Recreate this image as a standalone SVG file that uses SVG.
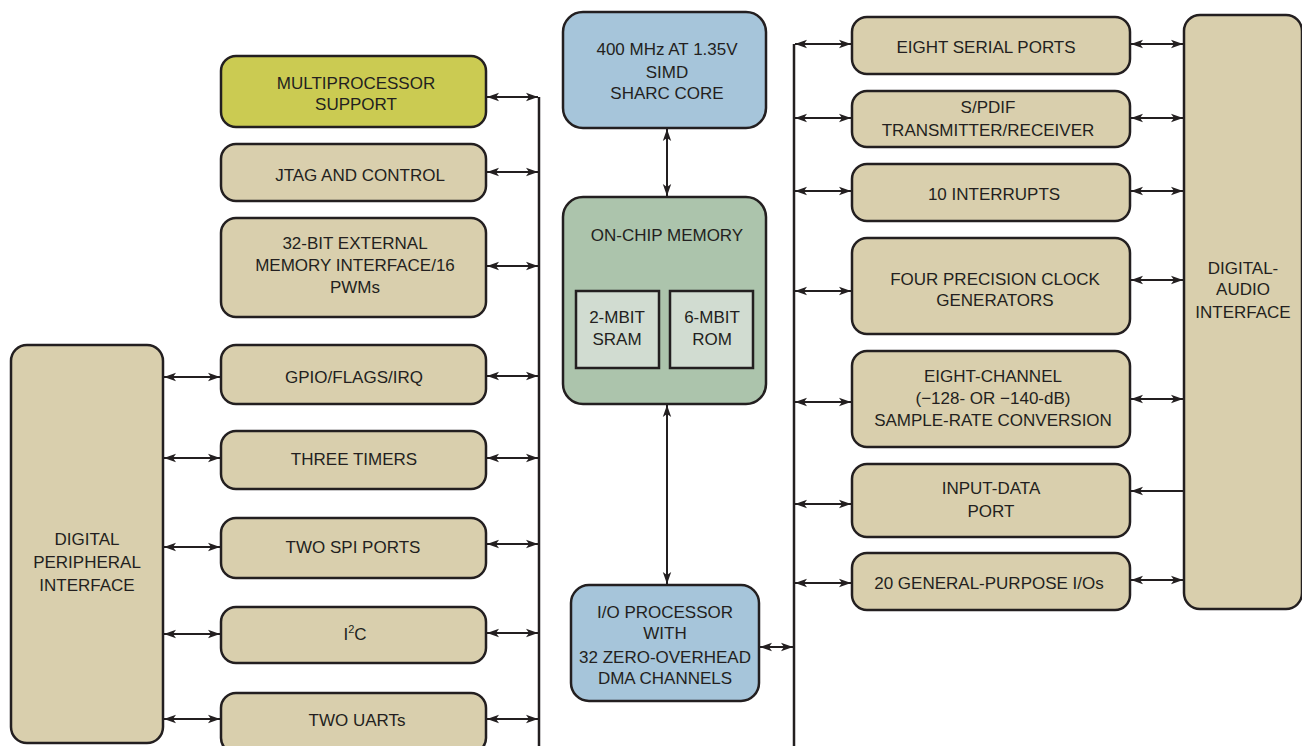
<svg xmlns="http://www.w3.org/2000/svg" width="1302" height="746" viewBox="0 0 1302 746">
<style>
.box{stroke:#231f20;stroke-width:2.5}
.tan{fill:#d9cfad}
.yel{fill:#cbcb52}
.blue{fill:#a6c5da}
.grn{fill:#acc4ac}
.inner{fill:#d1dcd1}
text{font-family:"Liberation Sans",Arial,sans-serif;font-size:17px;fill:#231f20;text-anchor:middle}
.ln{stroke:#231f20;stroke-width:2;fill:none}
.bus{stroke:#231f20;stroke-width:2.5;fill:none}
</style>
<defs>
<marker id="ah" viewBox="0 0 12 10" refX="12" refY="5" markerWidth="12" markerHeight="10" markerUnits="userSpaceOnUse" orient="auto-start-reverse">
<path d="M0,0.8 L12,5 L0,9.2 L3,5 Z" fill="#231f20"/>
</marker>
</defs>

<g id="connectors">
<line class="bus" x1="539" y1="97" x2="539" y2="746"/>
<line class="bus" x1="794" y1="44" x2="794" y2="746"/>
<line class="ln" x1="487" y1="97" x2="538" y2="97" marker-start="url(#ah)" marker-end="url(#ah)"/>
<line class="ln" x1="487" y1="172" x2="538" y2="172" marker-start="url(#ah)" marker-end="url(#ah)"/>
<line class="ln" x1="487" y1="266" x2="538" y2="266" marker-start="url(#ah)" marker-end="url(#ah)"/>
<line class="ln" x1="487" y1="376" x2="538" y2="376" marker-start="url(#ah)" marker-end="url(#ah)"/>
<line class="ln" x1="487" y1="458" x2="538" y2="458" marker-start="url(#ah)" marker-end="url(#ah)"/>
<line class="ln" x1="487" y1="544" x2="538" y2="544" marker-start="url(#ah)" marker-end="url(#ah)"/>
<line class="ln" x1="487" y1="633" x2="538" y2="633" marker-start="url(#ah)" marker-end="url(#ah)"/>
<line class="ln" x1="487" y1="719" x2="538" y2="719" marker-start="url(#ah)" marker-end="url(#ah)"/>
<line class="ln" x1="164" y1="377" x2="220" y2="377" marker-start="url(#ah)" marker-end="url(#ah)"/>
<line class="ln" x1="164" y1="458" x2="220" y2="458" marker-start="url(#ah)" marker-end="url(#ah)"/>
<line class="ln" x1="164" y1="547" x2="220" y2="547" marker-start="url(#ah)" marker-end="url(#ah)"/>
<line class="ln" x1="164" y1="634" x2="220" y2="634" marker-start="url(#ah)" marker-end="url(#ah)"/>
<line class="ln" x1="164" y1="719" x2="220" y2="719" marker-start="url(#ah)" marker-end="url(#ah)"/>
<line class="ln" x1="667" y1="129" x2="667" y2="196" marker-start="url(#ah)" marker-end="url(#ah)"/>
<line class="ln" x1="667" y1="405" x2="667" y2="584" marker-start="url(#ah)" marker-end="url(#ah)"/>
<line class="ln" x1="760" y1="647" x2="793" y2="647" marker-start="url(#ah)" marker-end="url(#ah)"/>
<line class="ln" x1="795" y1="44" x2="851" y2="44" marker-start="url(#ah)" marker-end="url(#ah)"/>
<line class="ln" x1="795" y1="118" x2="851" y2="118" marker-start="url(#ah)" marker-end="url(#ah)"/>
<line class="ln" x1="795" y1="191" x2="851" y2="191" marker-start="url(#ah)" marker-end="url(#ah)"/>
<line class="ln" x1="795" y1="291" x2="851" y2="291" marker-start="url(#ah)" marker-end="url(#ah)"/>
<line class="ln" x1="795" y1="402" x2="851" y2="402" marker-start="url(#ah)" marker-end="url(#ah)"/>
<line class="ln" x1="795" y1="504" x2="851" y2="504" marker-start="url(#ah)" marker-end="url(#ah)"/>
<line class="ln" x1="795" y1="583" x2="851" y2="583" marker-start="url(#ah)" marker-end="url(#ah)"/>
<line class="ln" x1="1131" y1="44" x2="1183" y2="44" marker-start="url(#ah)" marker-end="url(#ah)"/>
<line class="ln" x1="1131" y1="118" x2="1183" y2="118" marker-start="url(#ah)" marker-end="url(#ah)"/>
<line class="ln" x1="1131" y1="191" x2="1183" y2="191" marker-start="url(#ah)" marker-end="url(#ah)"/>
<line class="ln" x1="1131" y1="280" x2="1183" y2="280" marker-start="url(#ah)" marker-end="url(#ah)"/>
<line class="ln" x1="1131" y1="399" x2="1183" y2="399" marker-start="url(#ah)" marker-end="url(#ah)"/>
<line class="ln" x1="1183" y1="491" x2="1131" y2="491" marker-end="url(#ah)"/>
<line class="ln" x1="1131" y1="580" x2="1183" y2="580" marker-start="url(#ah)" marker-end="url(#ah)"/>
</g>

<g id="multiprocessor"><rect class="box yel" x="221" y="56" width="265" height="71" rx="15"/><text x="356" y="89">MULTIPROCESSOR</text><text x="356" y="110">SUPPORT</text></g>
<g id="jtag"><rect class="box tan" x="221" y="144" width="265" height="57" rx="15"/><text x="360" y="181">JTAG AND CONTROL</text></g>
<g id="extmem"><rect class="box tan" x="221" y="218" width="265" height="99" rx="15"/><text x="355" y="249">32-BIT EXTERNAL</text><text x="355" y="271">MEMORY INTERFACE/16</text><text x="355" y="293">PWMs</text></g>
<g id="gpio"><rect class="box tan" x="221" y="345" width="265" height="59" rx="15"/><text x="354" y="383">GPIO/FLAGS/IRQ</text></g>
<g id="timers"><rect class="box tan" x="221" y="431" width="265" height="58" rx="15"/><text x="354" y="465">THREE TIMERS</text></g>
<g id="spi"><rect class="box tan" x="221" y="518" width="265" height="60" rx="15"/><text x="353" y="553">TWO SPI PORTS</text></g>
<g id="i2c"><rect class="box tan" x="221" y="607" width="265" height="56" rx="15"/><text x="355" y="640">I<tspan dy="-7" font-size="11">2</tspan><tspan dy="7">C</tspan></text></g>
<g id="uarts"><rect class="box tan" x="221" y="693" width="265" height="60" rx="15"/><text x="357" y="726">TWO UARTs</text></g>
<g id="dpi"><rect class="box tan" x="11" y="345" width="152" height="398" rx="16"/><text x="87" y="545">DIGITAL</text><text x="87" y="568">PERIPHERAL</text><text x="87" y="591">INTERFACE</text></g>

<g id="core"><rect class="box blue" x="563" y="12" width="203" height="116" rx="20"/><text x="667" y="55">400 MHz AT 1.35V</text><text x="667" y="78">SIMD</text><text x="667" y="99">SHARC CORE</text></g>
<g id="memory"><rect class="box grn" x="563" y="197" width="203" height="207" rx="20"/><text x="667" y="241">ON-CHIP MEMORY</text>
<rect class="box inner" x="576" y="291" width="83" height="77"/><text x="617" y="323">2-MBIT</text><text x="617" y="345">SRAM</text>
<rect class="box inner" x="670" y="291" width="83" height="77"/><text x="712" y="323">6-MBIT</text><text x="712" y="345">ROM</text></g>
<g id="iop"><rect class="box blue" x="571" y="585" width="188" height="116" rx="18"/><text x="665" y="618">I/O PROCESSOR</text><text x="665" y="639">WITH</text><text x="665" y="663">32 ZERO-OVERHEAD</text><text x="665" y="684">DMA CHANNELS</text></g>

<g id="serial"><rect class="box tan" x="852" y="17" width="278" height="57" rx="15"/><text x="986" y="53">EIGHT SERIAL PORTS</text></g>
<g id="spdif"><rect class="box tan" x="852" y="91" width="278" height="56" rx="15"/><text x="988" y="113">S/PDIF</text><text x="988" y="136">TRANSMITTER/RECEIVER</text></g>
<g id="interrupts"><rect class="box tan" x="852" y="164" width="278" height="57" rx="15"/><text x="994" y="200">10 INTERRUPTS</text></g>
<g id="clocks"><rect class="box tan" x="852" y="238" width="278" height="96" rx="15"/><text x="995" y="285">FOUR PRECISION CLOCK</text><text x="995" y="306">GENERATORS</text></g>
<g id="src"><rect class="box tan" x="852" y="351" width="278" height="96" rx="15"/><text x="993" y="382">EIGHT-CHANNEL</text><text x="993" y="404">(−128- OR −140-dB)</text><text x="993" y="426">SAMPLE-RATE CONVERSION</text></g>
<g id="inputdata"><rect class="box tan" x="852" y="464" width="278" height="73" rx="15"/><text x="991" y="494">INPUT-DATA</text><text x="991" y="517">PORT</text></g>
<g id="gpios"><rect class="box tan" x="852" y="553" width="278" height="57" rx="15"/><text x="989" y="589">20 GENERAL-PURPOSE I/Os</text></g>
<g id="dai"><rect class="box tan" x="1184" y="15" width="118" height="594" rx="16"/><text x="1243" y="274">DIGITAL-</text><text x="1243" y="295">AUDIO</text><text x="1243" y="318">INTERFACE</text></g>
</svg>
